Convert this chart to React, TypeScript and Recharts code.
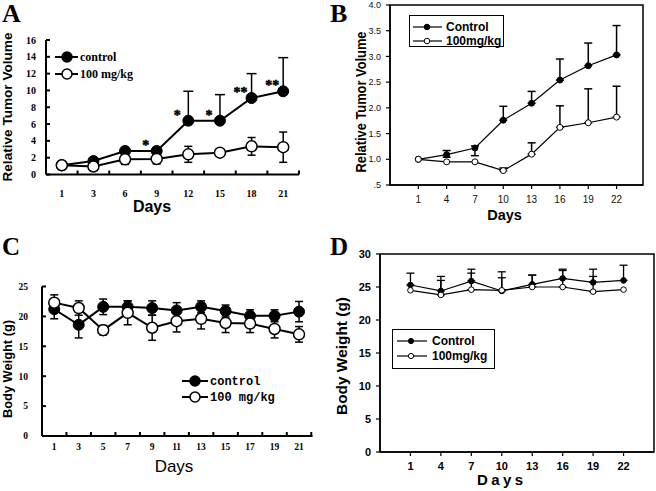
import React from 'react';
import { LineChart, Line, XAxis, YAxis, ErrorBar, Legend, LabelList, ReferenceArea } from 'recharts';

const SERIF = '"Liberation Serif", "Times New Roman", serif';
const SANS = '"Liberation Sans", Arial, sans-serif';
const MONO = '"Liberation Mono", "Courier New", monospace';

// ---------- Panel A ----------
const daysA = ['1', '3', '6', '9', '12', '15', '18', '21'];
const controlA = [1.1, 1.6, 2.8, 2.8, 6.4, 6.4, 9.1, 9.9];
const controlUpA = [0, 0, 0, 0, 3.5, 3.1, 2.9, 4.0];
const treatA = [1.1, 0.95, 1.8, 1.85, 2.4, 2.6, 3.35, 3.25];
const treatErrA = [0, 0, 0.6, 0.6, 0.95, 0, 1.05, 1.8];
const starsA = ['', '', '', '*', '*', '*', '**', '**'];
const yTicksA = [0, 2, 4, 6, 8, 10, 12, 14, 16];

// ---------- Panel B ----------
const daysB = [1, 4, 7, 10, 13, 16, 19, 22];
const controlB = [1.0, 1.09, 1.22, 1.76, 2.09, 2.54, 2.82, 3.03];
const controlUpB = [0, 0.08, 0.04, 0.27, 0.23, 0.41, 0.44, 0.57];
const controlLoB = [0, 0.05, 0.15, 0, 0, 0, 0, 0];
const treatB = [1.0, 0.95, 0.95, 0.78, 1.1, 1.62, 1.71, 1.82];
const treatUpB = [0, 0, 0, 0.05, 0.22, 0.42, 0.66, 0.6];
const yTicksB = [0.5, 1, 1.5, 2, 2.5, 3, 3.5, 4];

// ---------- Panel C ----------
const daysC = [1, 3, 5, 7, 9, 11, 13, 15, 17, 19, 21];
const controlC = [21.2, 18.6, 21.6, 21.6, 21.4, 21.0, 21.6, 20.9, 20.1, 20.1, 20.8];
const controlErrC = [1.6, 2.2, 1.3, 1.0, 1.2, 1.3, 1.0, 1.0, 1.0, 1.0, 1.7];
const treatC = [22.3, 21.4, 17.7, 20.6, 18.1, 19.2, 19.6, 18.9, 18.8, 17.9, 17.0];
const treatErrC = [1.3, 1.2, 0.8, 2.0, 2.1, 1.8, 1.7, 1.6, 1.5, 1.5, 1.3];
const xTicksC = [1, 2, 3, 4, 5, 6, 7, 8, 9, 10, 11, 12, 13, 14, 15, 16, 17, 18, 19, 20, 21, 22];
const yTicksC = [0, 5, 10, 15, 20, 25];

// ---------- Panel D ----------
const daysD = [1, 4, 7, 10, 13, 16, 19, 22];
const controlD = [25.3, 24.4, 25.9, 24.4, 25.4, 26.3, 25.7, 26.0];
const controlUpD = [1.8, 2.2, 1.8, 2.9, 1.4, 1.4, 2.0, 2.3];
const treatD = [24.5, 23.8, 24.6, 24.5, 25.0, 25.0, 24.3, 24.6];
const treatUpD = [0, 2.2, 2.5, 1.9, 1.8, 2.5, 2.3, 0];
const yTicksD = [0, 5, 10, 15, 20, 25, 30];

const errPair = (lo: number, hi: number) => (lo || hi ? [lo, hi] : null);

const dataA = daysA.map((day, i) => ({
  day,
  control: controlA[i],
  controlErr: errPair(0, controlUpA[i]),
  treat: treatA[i],
  treatErr: errPair(treatErrA[i], treatErrA[i]),
  star: starsA[i],
}));
const dataB = daysB.map((day, i) => ({
  day,
  control: controlB[i],
  controlErr: errPair(controlLoB[i], controlUpB[i]),
  treat: treatB[i],
  treatErr: errPair(0, treatUpB[i]),
}));
const dataC = daysC.map((day, i) => ({
  day,
  control: controlC[i],
  controlErr: errPair(controlErrC[i], controlErrC[i]),
  treat: treatC[i],
  treatErr: errPair(treatErrC[i], treatErrC[i]),
}));
const dataD = daysD.map((day, i) => ({
  day,
  control: controlD[i],
  controlErr: errPair(0, controlUpD[i]),
  treat: treatD[i],
  treatErr: errPair(0, treatUpD[i]),
}));

const seriesOrder = (item: any) => (item && item.dataKey === 'control' ? 0 : 1);

type TickCfg = {
  axis: 'x' | 'y';
  len: number;
  inward: boolean;
  gap: number;
  family: string;
  size: number;
  weight?: string;
  lw?: number;
  shift?: number;
  fill?: string;
  fmt?: (v: any) => string;
  showLabel?: (v: any) => boolean;
  showMark?: (v: any) => boolean;
};

function makeTick(c: TickCfg) {
  return (p: any) => {
    const { x, y, payload } = p;
    const v = payload ? payload.value : '';
    const label = c.fmt ? c.fmt(v) : String(v);
    const showL = c.showLabel ? c.showLabel(v) : true;
    const showM = c.showMark ? c.showMark(v) : true;
    const lw = c.lw ?? 1.5;
    const textProps = {
      fontFamily: c.family,
      fontSize: c.size,
      fontWeight: c.weight ?? 'bold',
      fill: c.fill ?? '#000',
    };
    if (c.axis === 'x') {
      const mx = x + (c.shift ?? 0);
      return (
        <g>
          {showM && (
            <line x1={mx} x2={mx} y1={y} y2={c.inward ? y - c.len : y + c.len} stroke="#000" strokeWidth={lw} />
          )}
          {showL && (
            <text x={x} y={y + c.gap} textAnchor="middle" {...textProps}>
              {label}
            </text>
          )}
        </g>
      );
    }
    return (
      <g>
        {showM && (
          <line x1={x} x2={c.inward ? x + c.len : x - c.len} y1={y} y2={y} stroke="#000" strokeWidth={lw} />
        )}
        {showL && (
          <text x={x - c.gap} y={y} dy="0.35em" textAnchor="end" {...textProps}>
            {label}
          </text>
        )}
      </g>
    );
  };
}

const legendRows = (
  opts: { rowY: number[]; x1: number; x2: number; mx: number; tx: number; r: number; lw: number; family: string; size: number; w: number; h: number; mlw: number }
) => (p: any) => {
  const items = ((p && p.payload) || []).slice().sort((a: any, b: any) => seriesOrder(a) - seriesOrder(b));
  return (
    <svg width={opts.w} height={opts.h} style={{ display: 'block', overflow: 'visible' }}>
      {items.map((e: any, i: number) => {
        const filled = e.dataKey === 'control';
        const y = opts.rowY[i] ?? opts.rowY[0] + i * 16;
        return (
          <g key={i}>
            <line x1={opts.x1} x2={opts.x2} y1={y} y2={y} stroke="#000" strokeWidth={opts.lw} />
            <circle cx={opts.mx} cy={y} r={opts.r} fill={filled ? '#000' : '#fff'} stroke="#000" strokeWidth={opts.mlw} />
            <text x={opts.tx} y={y} dy="0.35em" fontFamily={opts.family} fontSize={opts.size} fontWeight="bold" fill="#000">
              {e.value}
            </text>
          </g>
        );
      })}
    </svg>
  );
};

const starLabel = (p: any) => {
  const x = p.x ?? (p.viewBox ? p.viewBox.x : 0);
  const y = p.y ?? (p.viewBox ? p.viewBox.y : 0);
  if (!p.value) return null;
  return (
    <text
      x={x - 11}
      y={y - 1}
      textAnchor="middle"
      fontFamily={SERIF}
      fontSize={14}
      fontWeight="bold"
      fill="#000"
      stroke="#000"
      strokeWidth={0.5}
    >
      {p.value}
    </text>
  );
};

const PanelA = () => (
  <div style={{ position: 'absolute', left: 0, top: 0, width: 330, height: 230 }}>
    <LineChart width={330} height={230} data={dataA} margin={{ top: 40, right: 31, bottom: 25.5, left: 0 }}>
      <XAxis
        dataKey="day"
        type="category"
        height={30}
        interval={0}
        padding={{ left: 15.8, right: 15.8 }}
        axisLine={{ stroke: '#000', strokeWidth: 2 }}
        tickLine={false}
        tickSize={0}
        tickMargin={0}
        tick={makeTick({ axis: 'x', len: 4, inward: true, gap: 22, family: SERIF, size: 10, shift: 15.8, lw: 2 })}
      />
      <YAxis
        type="number"
        width={46}
        domain={[0, 16]}
        ticks={yTicksA}
        interval={0}
        axisLine={{ stroke: '#000', strokeWidth: 2 }}
        tickLine={false}
        tickSize={0}
        tickMargin={0}
        tick={makeTick({ axis: 'y', len: 4, inward: true, gap: 10, family: SERIF, size: 10, lw: 2 })}
      />
      <Legend
        layout="vertical"
        align="center"
        verticalAlign="middle"
        itemSorter={seriesOrder}
        wrapperStyle={{ left: 52, top: 48, width: 130, height: 36 }}
        content={legendRows({ rowY: [9, 26], x1: 3, x2: 26, mx: 15, tx: 28, r: 5, lw: 2, mlw: 1.5, family: SERIF, size: 12, w: 130, h: 36 })}
      />
      <Line
        dataKey="control"
        name="control"
        stroke="#000"
        strokeWidth={2}
        isAnimationActive={false}
        dot={{ r: 5.5, fill: '#000', stroke: '#000', strokeWidth: 1 }}
        activeDot={false}
      >
        <ErrorBar dataKey="controlErr" width={5} stroke="#000" strokeWidth={1.5} />
        <LabelList dataKey="star" content={starLabel} />
      </Line>
      <Line
        dataKey="treat"
        name="100 mg/kg"
        stroke="#000"
        strokeWidth={2}
        isAnimationActive={false}
        dot={{ r: 5.5, fill: '#fff', stroke: '#000', strokeWidth: 1.5 }}
        activeDot={false}
      >
        <ErrorBar dataKey="treatErr" width={4} stroke="#000" strokeWidth={1.5} />
      </Line>
    </LineChart>
    <svg width={330} height={230} style={{ position: 'absolute', left: 0, top: 0, pointerEvents: 'none' }}>
      <text x={2} y={22} fontFamily={SERIF} fontSize={26} fontWeight="bold" fill="#000">A</text>
      <text
        transform="translate(12,107) rotate(-90)"
        textAnchor="middle"
        fontFamily={SANS}
        fontSize={13.5}
        fontWeight="bold"
        fill="#000"
        textLength={149}
        lengthAdjust="spacingAndGlyphs"
      >
        Relative Tumor Volume
      </text>
      <text x={152} y={212} textAnchor="middle" fontFamily={SANS} fontSize={16} fontWeight="bold" fill="#000">Days</text>
    </svg>
  </div>
);

const PanelB = () => (
  <div style={{ position: 'absolute', left: 330, top: 0, width: 326, height: 230 }}>
    <LineChart width={326} height={230} data={dataB} margin={{ top: 5, right: 13, bottom: 15, left: 0 }}>
      <ReferenceArea x1={-2} x2={24.8} y1={0.5} y2={4} fill="none" stroke="#000" strokeWidth={1.5} />
      <XAxis
        dataKey="day"
        type="number"
        domain={[-2, 24.8]}
        ticks={daysB}
        interval={0}
        height={30}
        allowDataOverflow
        axisLine={{ stroke: '#000', strokeWidth: 1.5 }}
        tickLine={false}
        tickSize={0}
        tickMargin={0}
        tick={makeTick({ axis: 'x', len: 4, inward: false, gap: 18, family: SANS, size: 10, weight: 'normal', lw: 1.2, fill: '#111' })}
      />
      <YAxis
        type="number"
        width={60}
        domain={[0.5, 4]}
        ticks={yTicksB}
        interval={0}
        allowDataOverflow
        axisLine={{ stroke: '#000', strokeWidth: 1.5 }}
        tickLine={false}
        tickSize={0}
        tickMargin={0}
        tick={makeTick({
          axis: 'y', len: 4, inward: false, gap: 9, family: SANS, size: 9, weight: 'normal', lw: 1.2, fill: '#111',
          fmt: (v: number) => (v < 1 ? '.5' : v.toFixed(1)),
        })}
      />
      <Legend
        layout="vertical"
        align="center"
        verticalAlign="middle"
        itemSorter={seriesOrder}
        wrapperStyle={{ left: 79, top: 15, width: 95, height: 32, border: '1.5px solid #000', boxSizing: 'border-box', background: '#fff' }}
        content={legendRows({ rowY: [11, 25], x1: 3, x2: 32, mx: 17, tx: 36, r: 2.8, lw: 1.2, mlw: 1, family: SANS, size: 12, w: 92, h: 29 })}
      />
      <Line
        dataKey="control"
        name="Control"
        stroke="#000"
        strokeWidth={1.2}
        isAnimationActive={false}
        dot={{ r: 3, fill: '#000', stroke: '#000', strokeWidth: 1 }}
        activeDot={false}
      >
        <ErrorBar dataKey="controlErr" width={4} stroke="#000" strokeWidth={1.5} />
      </Line>
      <Line
        dataKey="treat"
        name="100mg/kg"
        stroke="#000"
        strokeWidth={1.2}
        isAnimationActive={false}
        dot={{ r: 3, fill: '#fff', stroke: '#000', strokeWidth: 1 }}
        activeDot={false}
      >
        <ErrorBar dataKey="treatErr" width={4} stroke="#000" strokeWidth={1.5} />
      </Line>
    </LineChart>
    <svg width={326} height={230} style={{ position: 'absolute', left: 0, top: 0, pointerEvents: 'none' }}>
      <text x={0} y={22} fontFamily={SERIF} fontSize={26} fontWeight="bold" fill="#000">B</text>
      <text
        transform="translate(36,102) rotate(-90)"
        textAnchor="middle"
        fontFamily={SANS}
        fontSize={15}
        fontWeight="bold"
        fill="#000"
        textLength={141}
        lengthAdjust="spacingAndGlyphs"
      >
        Relative Tumor Volume
      </text>
      <text x={174.5} y={220} textAnchor="middle" fontFamily={SANS} fontSize={14.5} fontWeight="bold" fill="#000">Days</text>
    </svg>
  </div>
);

const PanelC = () => (
  <div style={{ position: 'absolute', left: 0, top: 230, width: 330, height: 261 }}>
    <LineChart width={330} height={261} data={dataC} margin={{ top: 56.5, right: 17.5, bottom: 25, left: 0 }}>
      <XAxis
        dataKey="day"
        type="number"
        domain={[0, 22.1]}
        ticks={xTicksC}
        interval={0}
        height={30}
        allowDataOverflow
        axisLine={{ stroke: '#000', strokeWidth: 2 }}
        tickLine={false}
        tickSize={0}
        tickMargin={0}
        tick={makeTick({
          axis: 'x', len: 4, inward: true, gap: 14, family: SERIF, size: 9.5, lw: 2,
          showLabel: (v: number) => v % 2 === 1,
          showMark: (v: number) => v % 2 === 0,
        })}
      />
      <YAxis
        type="number"
        width={42}
        domain={[0, 25]}
        ticks={yTicksC}
        interval={0}
        axisLine={{ stroke: '#000', strokeWidth: 2 }}
        tickLine={false}
        tickSize={0}
        tickMargin={0}
        tick={makeTick({ axis: 'y', len: 4, inward: true, gap: 14, family: SERIF, size: 9.5, lw: 2 })}
      />
      <Legend
        layout="vertical"
        align="center"
        verticalAlign="middle"
        itemSorter={seriesOrder}
        wrapperStyle={{ left: 180, top: 140, width: 120, height: 36 }}
        content={legendRows({ rowY: [11, 27], x1: 2, x2: 28, mx: 15, tx: 30, r: 5, lw: 2, mlw: 1.5, family: MONO, size: 12, w: 120, h: 36 })}
      />
      <Line
        dataKey="control"
        name="control"
        stroke="#000"
        strokeWidth={2}
        isAnimationActive={false}
        dot={{ r: 5.5, fill: '#000', stroke: '#000', strokeWidth: 1 }}
        activeDot={false}
      >
        <ErrorBar dataKey="controlErr" width={4} stroke="#000" strokeWidth={1.5} />
      </Line>
      <Line
        dataKey="treat"
        name="100 mg/kg"
        stroke="#000"
        strokeWidth={2}
        isAnimationActive={false}
        dot={{ r: 5.5, fill: '#fff', stroke: '#000', strokeWidth: 1.5 }}
        activeDot={false}
      >
        <ErrorBar dataKey="treatErr" width={4} stroke="#000" strokeWidth={1.5} />
      </Line>
    </LineChart>
    <svg width={330} height={261} style={{ position: 'absolute', left: 0, top: 0, pointerEvents: 'none' }}>
      <text x={2} y={25} fontFamily={SERIF} fontSize={25} fontWeight="bold" fill="#000">C</text>
      <text
        transform="translate(12,139) rotate(-90)"
        textAnchor="middle"
        fontFamily={SANS}
        fontSize={12}
        fontWeight="bold"
        fill="#000"
        textLength={98}
        lengthAdjust="spacingAndGlyphs"
      >
        Body Weight (g)
      </text>
      <text x={174} y={242} textAnchor="middle" fontFamily={SANS} fontSize={17} fill="#000">Days</text>
    </svg>
  </div>
);

const PanelD = () => (
  <div style={{ position: 'absolute', left: 330, top: 230, width: 326, height: 261 }}>
    <LineChart width={326} height={261} data={dataD} margin={{ top: 24, right: 2, bottom: 9, left: 0 }}>
      <ReferenceArea x1={-2} x2={25} y1={0} y2={30} fill="none" stroke="#000" strokeWidth={1.5} />
      <XAxis
        dataKey="day"
        type="number"
        domain={[-2, 25]}
        ticks={daysD}
        interval={0}
        height={30}
        allowDataOverflow
        axisLine={{ stroke: '#000', strokeWidth: 1.5 }}
        tickLine={false}
        tickSize={0}
        tickMargin={0}
        tick={makeTick({ axis: 'x', len: 4, inward: false, gap: 18, family: SANS, size: 11, lw: 1.2 })}
      />
      <YAxis
        type="number"
        width={50}
        domain={[0, 30]}
        ticks={yTicksD}
        interval={0}
        axisLine={{ stroke: '#000', strokeWidth: 1.5 }}
        tickLine={false}
        tickSize={0}
        tickMargin={0}
        tick={makeTick({ axis: 'y', len: 4, inward: false, gap: 9, family: SANS, size: 11, lw: 1.2 })}
      />
      <Legend
        layout="vertical"
        align="center"
        verticalAlign="middle"
        itemSorter={seriesOrder}
        wrapperStyle={{ left: 62, top: 99, width: 103, height: 40, border: '1.5px solid #000', boxSizing: 'border-box', background: '#fff' }}
        content={legendRows({ rowY: [11, 26], x1: 4, x2: 34, mx: 18, tx: 39, r: 2.6, lw: 1.2, mlw: 1, family: SANS, size: 12, w: 100, h: 37 })}
      />
      <Line
        dataKey="control"
        name="Control"
        stroke="#000"
        strokeWidth={1.2}
        isAnimationActive={false}
        dot={{ r: 2.8, fill: '#000', stroke: '#000', strokeWidth: 1 }}
        activeDot={false}
      >
        <ErrorBar dataKey="controlErr" width={4} stroke="#000" strokeWidth={1.3} />
      </Line>
      <Line
        dataKey="treat"
        name="100mg/kg"
        stroke="#000"
        strokeWidth={1.2}
        isAnimationActive={false}
        dot={{ r: 2.8, fill: '#fff', stroke: '#000', strokeWidth: 1 }}
        activeDot={false}
      >
        <ErrorBar dataKey="treatErr" width={4} stroke="#000" strokeWidth={1.3} />
      </Line>
    </LineChart>
    <svg width={326} height={261} style={{ position: 'absolute', left: 0, top: 0, pointerEvents: 'none' }}>
      <text x={0} y={25} fontFamily={SERIF} fontSize={25} fontWeight="bold" fill="#000">D</text>
      <text
        transform="translate(17,126) rotate(-90)"
        textAnchor="middle"
        fontFamily={SANS}
        fontSize={14}
        fontWeight="bold"
        fill="#000"
        textLength={118}
        lengthAdjust="spacingAndGlyphs"
      >
        Body Weight (g)
      </text>
      <text
        x={170}
        y={255}
        textAnchor="middle"
        fontFamily={SANS}
        fontSize={15}
        fontWeight="bold"
        fill="#000"
        textLength={46}
        lengthAdjust="spacing"
      >
        Days
      </text>
    </svg>
  </div>
);

export default function App() {
  return (
    <div style={{ position: 'absolute', left: 0, top: 0, width: 656, height: 491, background: '#fff', overflow: 'hidden' }}>
      <PanelA />
      <PanelB />
      <PanelC />
      <PanelD />
    </div>
  );
}
